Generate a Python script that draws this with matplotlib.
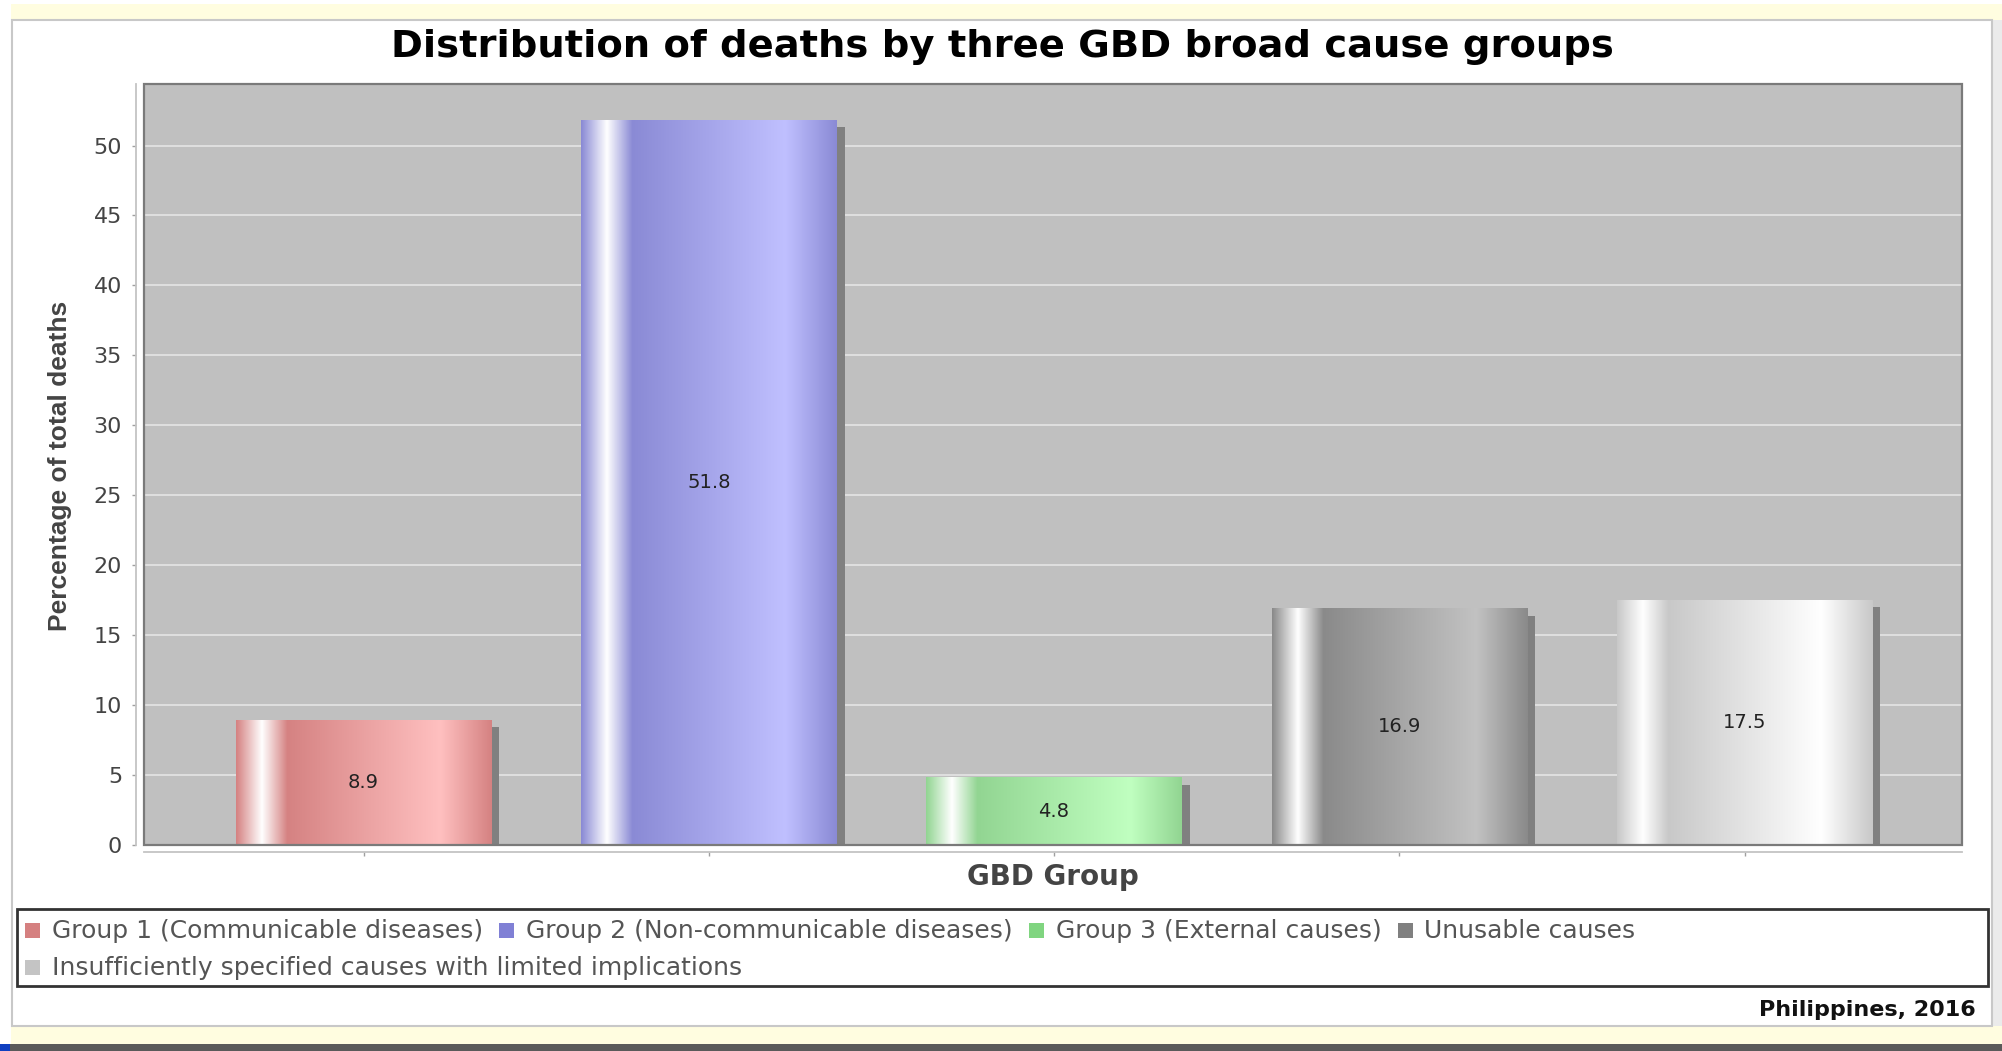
import matplotlib
matplotlib.use("Agg")
import numpy as np
import matplotlib.pyplot as plt
from matplotlib.patches import Rectangle
from matplotlib.colors import to_rgb
from matplotlib.transforms import offset_copy

# canvas size in pixels
W, H = 2002, 1051
DPI = 100

# data
categories = [
    "Group 1 (Communicable diseases)",
    "Group 2 (Non-communicable diseases)",
    "Group 3 (External causes)",
    "Unusable causes",
    "Insufficiently specified causes with limited implications",
]
values = [8.9, 51.8, 4.8, 16.9, 17.5]
y_ticks = [0, 5, 10, 15, 20, 25, 30, 35, 40, 45, 50]

# bar shading: dark base tone and light tone for the cylinder gradient
base_colors = ["#d58282", "#8a8ad5", "#92d592", "#8a8a8a", "#c8c8c8"]
light_colors = ["#ffc0c0", "#c0c0ff", "#c0ffc0", "#c2c2c2", "#ffffff"]
legend_colors = ["#d58080", "#8080d5", "#80d580", "#808080", "#c4c4c4"]

SANS = ["Liberation Sans", "DejaVu Sans"]
DEJA = ["DejaVu Sans"]


def fx(px):
    return px / W


def fy(py):
    return 1 - py / H


def cylinder_gradient(c0, c1, n=256):
    # left edge -> white highlight -> base -> light -> base (right edge)
    stops = [0.0, 0.10, 0.20, 0.80, 1.0]
    cols = [to_rgb(c0), (1, 1, 1), to_rgb(c0), to_rgb(c1), to_rgb(c0)]
    t = np.linspace(0, 1, n)
    cols = np.array(cols)
    grad = np.stack([np.interp(t, stops, cols[:, k]) for k in range(3)], axis=-1)
    return grad[None, :, :]


def frame_rect(x0, y0, x1, y1, **kw):
    # rectangle given in pixel coords (y measured from the top), behind the axes
    kw.setdefault("edgecolor", "none")
    kw.setdefault("zorder", -10)
    fig.add_artist(Rectangle((fx(x0), fy(y1)), fx(x1) - fx(x0), fy(y0) - fy(y1),
                             transform=fig.transFigure, **kw))


fig = plt.figure(figsize=(W / DPI, H / DPI), dpi=DPI)
fig.patch.set_facecolor("white")

# window frame around the chart panel
frame_rect(11, 4, W, 20, facecolor="#fffde0")
frame_rect(11, 1026, W, 1044, facecolor="#fffde0")
frame_rect(0, 1044, W, H, facecolor="#5a5a5a")
frame_rect(0, 1044, 10, H, facecolor="#1040c0")
frame_rect(1993, 20, W, 1026, facecolor="#ebebeb")
frame_rect(12, 20, 1992, 1026, facecolor="white", edgecolor="#c8c8c8", lw=1.5)

ax = fig.add_axes([fx(144), fy(845), fx(1962) - fx(144), fy(84) - fy(845)])
ax.set_facecolor("#c0c0c0")

x = np.arange(len(values))
bars = ax.bar(x, values, width=0.74, color="none", edgecolor="none", zorder=3)

shadow_tr = offset_copy(ax.transData, fig=fig, x=8, y=-7, units="dots")
for b, v, c0, c1 in zip(bars, values, base_colors, light_colors):
    x0, w, h = b.get_x(), b.get_width(), b.get_height()
    ax.add_patch(Rectangle((x0, 0), w, h, transform=shadow_tr,
                           facecolor="#808080", edgecolor="none", zorder=2))
    ax.imshow(cylinder_gradient(c0, c1), extent=(x0, x0 + w, 0, h),
              aspect="auto", interpolation="bilinear", zorder=3)
    ax.text(x0 + w / 2, h / 2, f"{v:.1f}", ha="center", va="center",
            fontsize=14, color="#222222", family=DEJA, zorder=4)

ax.set_xlim(-0.636, 4.63)
ax.set_ylim(0, 54.4)

ax.set_yticks(y_ticks)
ax.set_yticklabels([str(t) for t in y_ticks])
ax.set_xticks(x)
ax.set_xticklabels([])
ax.tick_params(axis="y", direction="out", length=3, width=1, color="#a0a0a0",
               labelsize=16, labelcolor="#444444", pad=7)
ax.tick_params(axis="x", direction="out", length=3, width=1, color="#a0a0a0")
for lab in ax.get_yticklabels():
    lab.set_family(DEJA)

ax.yaxis.grid(True, color="#e2e2e2", lw=1.3)
ax.set_axisbelow(True)

for side in ("top", "right"):
    ax.spines[side].set_visible(False)
ax.spines["left"].set_position(("outward", 8 * 0.72))
ax.spines["bottom"].set_position(("outward", 7 * 0.72))
for side in ("left", "bottom"):
    ax.spines[side].set_color("#c4c4c4")
    ax.spines[side].set_linewidth(1.3)

# plot area outline
ax.add_patch(Rectangle((0, 0), 1, 1, transform=ax.transAxes, fill=False,
                       edgecolor="#7a7a7a", lw=1.6, zorder=6, clip_on=False))

fig.text(fx(1002), fy(47), "Distribution of deaths by three GBD broad cause groups",
         ha="center", va="center", fontsize=27.7, fontweight="bold", family=DEJA, color="black")
fig.text(fx(1053), fy(877), "GBD Group", ha="center", va="center",
         fontsize=20, fontweight="bold", family=DEJA, color="#444444")
fig.text(fx(60), fy(466), "Percentage of total deaths", ha="center", va="center",
         rotation=90, fontsize=19, fontweight="bold", family=SANS, color="#444444")

# legend box with flowing entries
frame_rect(17, 909, 1988, 986, facecolor="white", edgecolor="#333333", lw=2, zorder=1)
renderer = fig.canvas.get_renderer()
rows = [931, 968]
row = 0
xpos = 25
for name, col in zip(categories, legend_colors):
    t = fig.text(0, 0, name, ha="left", va="center", fontsize=18,
                 family=DEJA, color="#555555")
    tw = t.get_window_extent(renderer).width
    if xpos + 27 + tw > 1980:
        row += 1
        xpos = 25
    ry = rows[row]
    frame_rect(xpos, ry - 8, xpos + 15, ry + 7, facecolor=col, zorder=2)
    t.set_position((fx(xpos + 27), fy(ry)))
    xpos = xpos + 27 + tw + 16

fig.text(fx(1976), fy(1010), "Philippines, 2016", ha="right", va="center",
         fontsize=16, fontweight="bold", family=DEJA, color="#111111")

fig.savefig("out.png", dpi=DPI)
